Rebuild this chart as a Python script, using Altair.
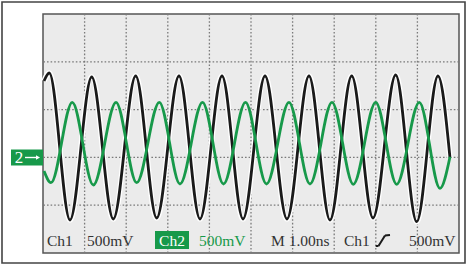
import altair as alt
import pandas as pd

# Time axis in ns (1 division = 1.00 ns), vertical axis in divisions (0 = bottom edge)
black_t = [0.024, 0.151, 0.649, 1.171, 1.690, 2.228, 2.733, 3.269, 3.774, 4.303, 4.808,
           5.337, 5.865, 6.394, 6.899, 7.421, 7.933, 8.478, 8.983, 9.495, 9.784]
black_v = [3.598, 3.766, 0.690, 3.682, 0.711, 3.703, 0.732, 3.703, 0.711, 3.703, 0.711,
           3.703, 0.711, 3.703, 0.690, 3.703, 0.732, 3.724, 0.655, 3.703, 1.987]

green_t = [0.024, 0.192, 0.704, 1.209, 1.755, 2.252, 2.796, 3.293, 3.834, 4.339, 4.868,
           5.373, 5.913, 6.418, 6.947, 7.459, 7.998, 8.502, 9.046, 9.543, 9.784]
green_v = [1.715, 1.471, 3.153, 1.423, 3.153, 1.471, 3.153, 1.444, 3.153, 1.444, 3.153,
           1.444, 3.153, 1.444, 3.153, 1.437, 3.153, 1.437, 3.153, 1.354, 2.015]

grid_t = [1, 2, 3, 4, 5, 6, 7, 8, 9]
grid_v = [1, 2, 3, 4]

ch2_ground = [2]

labels = ["Ch1", "500mV", "Ch2", "500mV", "M 1.00ns", "Ch1", "500mV", "2", "→"]

BLACK = "#1a1a1a"
GREEN = "#17994a"
TXT = "#333333"
FONT = "Liberation Serif"

xs = alt.Scale(domain=[0, 10], nice=False, zero=False)
ys = alt.Scale(domain=[0, 5], nice=False, zero=False)

black_df = pd.DataFrame({"t": black_t, "v": black_v})
green_df = pd.DataFrame({"t": green_t, "v": green_v})

vgrid = alt.Chart(pd.DataFrame({"t": grid_t})).mark_rule(
    color="#7a7a7a", strokeWidth=1.3, strokeDash=[1.6, 2]
).encode(x=alt.X("t:Q", scale=xs, axis=None))

hgrid = alt.Chart(pd.DataFrame({"v": grid_v})).mark_rule(
    color="#7a7a7a", strokeWidth=1.3, strokeDash=[1.6, 2]
).encode(y=alt.Y("v:Q", scale=ys, axis=None))

halo = alt.Chart(black_df).mark_line(
    color="white", strokeWidth=5.5, interpolate="monotone"
).encode(x=alt.X("t:Q", scale=xs, axis=None), y=alt.Y("v:Q", scale=ys, axis=None))

black = alt.Chart(black_df).mark_line(
    color=BLACK, strokeWidth=2.8, interpolate="monotone"
).encode(x=alt.X("t:Q", scale=xs, axis=None), y=alt.Y("v:Q", scale=ys, axis=None))

green = alt.Chart(green_df).mark_line(
    color=GREEN, strokeWidth=2.8, interpolate="monotone"
).encode(x=alt.X("t:Q", scale=xs, axis=None), y=alt.Y("v:Q", scale=ys, axis=None))

one = pd.DataFrame({"a": [0]})


def txt(label, x, color, size=15.5, align="left", y=232):
    return alt.Chart(one).mark_text(
        text=label, font=FONT, fontSize=size, color=color, align=align,
        baseline="alphabetic"
    ).encode(x=alt.value(x), y=alt.value(y))


def box(x1, x2, y1, y2, color):
    return alt.Chart(one).mark_rect(color=color).encode(
        x=alt.value(x1), x2=alt.value(x2), y=alt.value(y1), y2=alt.value(y2)
    )


def seg(x1, y1, x2, y2, color=BLACK, w=2):
    return alt.Chart(one).mark_rule(color=color, strokeWidth=w).encode(
        x=alt.value(x1), x2=alt.value(x2), y=alt.value(y1), y2=alt.value(y2)
    )


outer = alt.Chart(one).mark_rect(
    fill="white", fillOpacity=0, stroke="#444444", strokeWidth=1.6
).encode(x=alt.value(-41), x2=alt.value(422), y=alt.value(-12), y2=alt.value(249))

marker_box = box(-32, 0, 135.5, 151.5, GREEN)
marker_two = alt.Chart(pd.DataFrame({"v": ch2_ground})).mark_text(
    text=labels[7], font=FONT, fontSize=17, color="white", align="center",
    baseline="middle", dy=0.5
).encode(x=alt.value(-24), y=alt.Y("v:Q", scale=ys, axis=None))
# arrow of the channel-2 ground marker
arrow_line = seg(-18, 143.5, -5, 143.5, color="white", w=1.4)
arrow_head = alt.Chart(one).mark_point(
    shape="triangle-right", filled=True, color="white", size=22, opacity=1
).encode(x=alt.value(-5), y=alt.value(143.5))

layers = [
    vgrid, hgrid, halo, black, green,
    txt(labels[0], 4, TXT),
    txt(labels[1], 44, TXT),
    box(112, 146, 217, 235, GREEN),
    txt(labels[2], 129, "white", align="center"),
    txt(labels[3], 156, GREEN),
    txt(labels[4], 228, TXT),
    txt(labels[5], 301, TXT),
    seg(332.7, 232, 335.5, 232),
    seg(335.5, 232, 342, 221.5),
    seg(342, 221.5, 347, 221),
    txt(labels[6], 366, TXT),
    outer, marker_box, marker_two, arrow_line, arrow_head,
]

chart = alt.layer(*layers).properties(
    width=416, height=239,
    padding={"left": 43, "top": 14, "right": 8, "bottom": 14},
    autosize=alt.AutoSizeParams(type="none"),
    background="white",
).configure_view(fill="#ebebeb", stroke="#555555", strokeWidth=1.5)

chart.save("out.html", embed_options={"renderer": "svg", "actions": False})
